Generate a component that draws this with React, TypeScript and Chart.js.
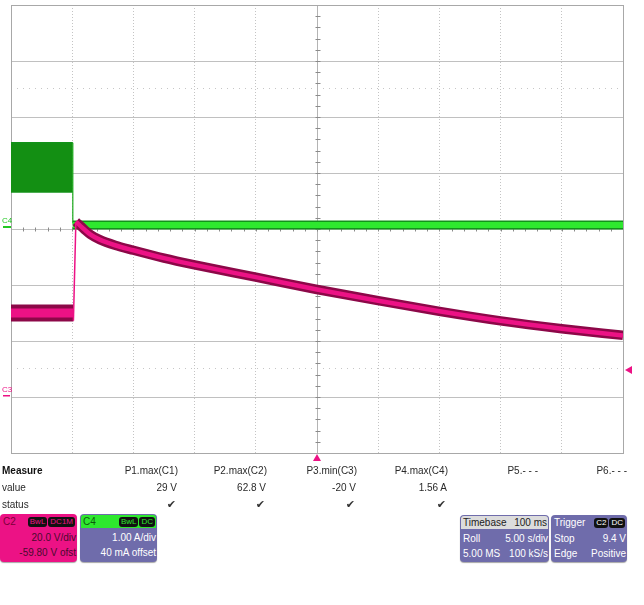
import React, { useEffect, useRef } from "react";
import { Chart, registerables } from "chart.js";
Chart.register(...registerables);

// grid in divisions
const xDivMin = 0;
const xDivMax = 10;
const yDivMin = -4;
const yDivMax = 4;

// C1 (dark green block before the event)
const c1BandX = [0, 1.01];
const c1BandTop = [1.54, 1.54];
const c1BandBottom = [0.66, 0.66];
const c1EdgeX = [1.01, 1.01];
const c1EdgeY = [1.54, 0.1];

// C4 (bright green current level)
const c4LevelX = [1.01, 10];
const c4LevelY = [0.07, 0.07];

// C2 (magenta voltage)
const c2PreX = [0, 1.02];
const c2PreY = [-1.5, -1.5];
const c2JumpX = [1.02, 1.06];
const c2JumpY = [-1.64, 0.13];
const c2DecayX = [1.06, 1.12, 1.2, 1.3, 1.45, 1.7, 2, 2.5, 3, 4, 5, 6, 7, 8, 9, 10];
const c2DecayY = [0.13, 0.07, -0.01, -0.1, -0.19, -0.29, -0.38, -0.52, -0.64, -0.86, -1.08, -1.28, -1.47, -1.64, -1.78, -1.9];

// markers
const cursorLevels = [2.52, -2.48];
const triggerLevel = -2.52;
const triggerTime = 5;
const c4Ground = 0;
const c3Ground = -3;

// measurement table
const measureNames = ["P1.max(C1)", "P2.max(C2)", "P3.min(C3)", "P4.max(C4)", "P5.- - -", "P6.- - -"];
const measureValues = ["29 V", "62.8 V", "-20 V", "1.56 A", "", ""];
const measureStatus = [true, true, true, true, false, false];

const pts = (xs: number[], ys: number[]) => xs.map((x, i) => ({ x, y: ys[i] }));

const PINK = "#ec1285";
const DARKPINK = "#8c0848";
const GREEN = "#2ee82e";
const DARKGREEN = "#12921a";
const PURPLE = "#6f6cab";

const scopePlugin = {
  id: "scope",
  beforeDatasetsDraw(chart: any) {
    const { ctx, chartArea: a, scales } = chart;
    const xs = scales.x, ys = scales.y;
    ctx.save();
    ctx.strokeStyle = "#c6c6c6";
    ctx.lineWidth = 1;
    ctx.setLineDash([1, 5]);
    cursorLevels.forEach((lv) => {
      const y = Math.round(ys.getPixelForValue(lv)) + 0.5;
      ctx.beginPath();
      ctx.moveTo(a.left, y);
      ctx.lineTo(a.right, y);
      ctx.stroke();
    });
    ctx.setLineDash([]);
    const cx = Math.round(xs.getPixelForValue(5)) + 0.5;
    const cy = Math.round(ys.getPixelForValue(0)) + 0.5;
    ctx.strokeStyle = "#b4b4b4";
    ctx.beginPath();
    ctx.moveTo(cx, a.top);
    ctx.lineTo(cx, a.bottom);
    ctx.stroke();
    ctx.strokeStyle = "#8a8a8a";
    for (let v = yDivMin; v <= yDivMax + 1e-6; v += 0.2) {
      const y = Math.round(ys.getPixelForValue(v)) + 0.5;
      ctx.beginPath();
      ctx.moveTo(cx - 2, y);
      ctx.lineTo(cx + 3, y);
      ctx.stroke();
    }
    for (let v = xDivMin; v <= xDivMax + 1e-6; v += 0.2) {
      const x = Math.round(xs.getPixelForValue(v)) + 0.5;
      ctx.beginPath();
      ctx.moveTo(x, cy - 2);
      ctx.lineTo(x, cy + 2);
      ctx.stroke();
    }
    ctx.strokeStyle = "#a8a8a8";
    ctx.strokeRect(Math.round(a.left) + 0.5, Math.round(a.top) + 0.5, Math.round(a.right - a.left), Math.round(a.bottom - a.top));
    ctx.restore();
  },
  afterDraw(chart: any) {
    const { ctx, chartArea: a, scales } = chart;
    const xs = scales.x, ys = scales.y;
    ctx.save();
    ctx.font = "8px 'Liberation Sans', Arial";
    ctx.textBaseline = "bottom";
    const g4 = ys.getPixelForValue(c4Ground);
    ctx.fillStyle = "#22c822";
    ctx.fillText("C4", 2, g4 - 4);
    ctx.fillRect(3, g4 - 3, 8, 2);
    const g3 = ys.getPixelForValue(c3Ground);
    ctx.fillStyle = PINK;
    ctx.fillText("C3", 2, g3 - 3);
    ctx.fillRect(3, g3 - 2, 7, 1.5);
    const ty = ys.getPixelForValue(triggerLevel);
    ctx.beginPath();
    ctx.moveTo(a.right + 2, ty);
    ctx.lineTo(a.right + 9, ty - 4);
    ctx.lineTo(a.right + 9, ty + 4);
    ctx.closePath();
    ctx.fill();
    const tx = xs.getPixelForValue(triggerTime);
    ctx.beginPath();
    ctx.moveTo(tx, a.bottom + 1);
    ctx.lineTo(tx - 4, a.bottom + 8);
    ctx.lineTo(tx + 4, a.bottom + 8);
    ctx.closePath();
    ctx.fill();
    ctx.restore();
  },
};

function Badge({ children, color }: any) {
  return (
    <span
      style={{
        background: "#111",
        color,
        borderRadius: 3,
        padding: "0 2px",
        fontSize: 8,
        lineHeight: "10px",
        height: 10,
        display: "inline-block",
        marginLeft: 1,
      }}
    >
      {children}
    </span>
  );
}

function InfoBox({ left, top, width, height, headerBg, headerColor, bodyBg, bodyColor, title, titleRight, badges, badgeColor, rows }: any) {
  return (
    <div
      style={{
        position: "absolute",
        left,
        top,
        width,
        height,
        background: bodyBg,
        borderRadius: 4,
        overflow: "hidden",
        boxShadow: "0 1px 1px rgba(0,0,0,0.35)",
        fontSize: 10,
        color: bodyColor,
      }}
    >
      <div
        style={{
          height: 13,
          margin: "1px 1px 0 1px",
          background: headerBg,
          color: headerColor,
          borderRadius: "3px 3px 0 0",
          display: "flex",
          alignItems: "center",
          justifyContent: "space-between",
          padding: "0 1px 0 2px",
          lineHeight: "13px",
        }}
      >
        <span>{title}</span>
        <span style={{ display: "flex" }}>
          {titleRight ? <span>{titleRight}</span> : null}
          {(badges || []).map((b: string, i: number) => (
            <Badge key={i} color={badgeColor}>
              {b}
            </Badge>
          ))}
        </span>
      </div>
      {rows.map((r: string[], i: number) => (
        <div
          key={i}
          style={{ display: "flex", justifyContent: "space-between", padding: "0 1px 0 3px", lineHeight: "15px", height: 15, marginTop: i === 0 ? 2 : 0 }}
        >
          <span>{r[0]}</span>
          <span>{r[1]}</span>
        </div>
      ))}
    </div>
  );
}

export default function App() {
  const ref = useRef<HTMLCanvasElement | null>(null);
  useEffect(() => {
    if (!ref.current) return;
    const chart = new Chart(ref.current, {
      type: "line",
      data: {
        datasets: [
          { data: pts(c2JumpX, c2JumpY), borderColor: PINK, borderWidth: 1.5, pointRadius: 0, order: 1 } as any,
          { data: pts(c2DecayX, c2DecayY), borderColor: PINK, borderWidth: 4.5, pointRadius: 0, cubicInterpolationMode: "monotone", order: 2 } as any,
          { data: pts(c2DecayX, c2DecayY), borderColor: DARKPINK, borderWidth: 9.5, pointRadius: 0, cubicInterpolationMode: "monotone", order: 3 } as any,
          { data: pts(c2PreX, c2PreY), borderColor: PINK, borderWidth: 9, pointRadius: 0, order: 4 } as any,
          { data: pts(c2PreX, c2PreY), borderColor: DARKPINK, borderWidth: 17, pointRadius: 0, order: 5 } as any,
          { data: pts(c4LevelX, c4LevelY), borderColor: GREEN, borderWidth: 6, pointRadius: 0, order: 6 } as any,
          { data: pts(c4LevelX, c4LevelY), borderColor: DARKGREEN, borderWidth: 9, pointRadius: 0, order: 7 } as any,
          { data: pts(c1EdgeX, c1EdgeY), borderColor: "#1aa81a", borderWidth: 1.2, pointRadius: 0, order: 8 } as any,
          { data: pts(c1BandX, c1BandTop), borderColor: DARKGREEN, backgroundColor: "#138f13", borderWidth: 1.5, pointRadius: 0, fill: "+1", order: 9 } as any,
          { data: pts(c1BandX, c1BandBottom), borderColor: DARKGREEN, borderWidth: 1.5, pointRadius: 0, order: 10 } as any,
        ],
      },
      options: {
        animation: false,
        responsive: false,
        devicePixelRatio: 1,
        layout: { padding: { left: 11, right: 21, top: 5, bottom: 17 } },
        plugins: { legend: { display: false }, tooltip: { enabled: false } },
        events: [],
        scales: {
          x: {
            type: "linear",
            min: xDivMin,
            max: xDivMax,
            ticks: { display: false, stepSize: 1 },
            grid: { color: "#c4c4c4", lineWidth: 1, drawTicks: false },
            border: { display: false, dash: [1, 2] },
          },
          y: {
            type: "linear",
            min: yDivMin,
            max: yDivMax,
            ticks: { display: false, stepSize: 1 },
            grid: { color: "#c0c0c0", lineWidth: 1, drawTicks: false },
            border: { display: false },
          },
        },
      } as any,
      plugins: [scopePlugin],
    });
    return () => chart.destroy();
  }, []);

  const colRight = [178, 267, 357, 448, 538, 627];
  const rowTop = [464, 481, 498];
  const txt: any = { position: "absolute", fontSize: 10, lineHeight: "14px", height: 14, whiteSpace: "nowrap", color: "#2a2a2a" };

  return (
    <div style={{ position: "absolute", left: 0, top: 0, width: 644, height: 605, background: "#fff", fontFamily: "'Liberation Sans', Arial, sans-serif" }}>
      <canvas ref={ref} width={644} height={470} style={{ position: "absolute", left: 0, top: 0, width: 644, height: 470 }} />
      <div style={{ ...txt, left: 2, top: rowTop[0], fontWeight: "bold", color: "#111" }}>Measure</div>
      <div style={{ ...txt, left: 2, top: rowTop[1] }}>value</div>
      <div style={{ ...txt, left: 2, top: rowTop[2] }}>status</div>
      {measureNames.map((n, i) => (
        <div key={"n" + i} style={{ ...txt, right: 644 - colRight[i], top: rowTop[0] }}>
          {n}
        </div>
      ))}
      {measureValues.map((v, i) => (
        <div key={"v" + i} style={{ ...txt, right: 644 - colRight[i] + 1, top: rowTop[1] }}>
          {v}
        </div>
      ))}
      {measureStatus.map((s, i) =>
        s ? (
          <div key={"s" + i} style={{ ...txt, right: 644 - colRight[i] + 2, top: rowTop[2], fontFamily: "'DejaVu Sans'", fontSize: 11, color: "#333" }}>
            ✔
          </div>
        ) : null
      )}
      <InfoBox
        left={0}
        top={514}
        width={77}
        height={48}
        headerBg={PINK}
        headerColor="#7a0038"
        bodyBg={PINK}
        bodyColor="#4a0a2e"
        title="C2"
        badges={["BwL", "DC1M"]}
        badgeColor={PINK}
        rows={[["", "20.0 V/div"], ["", "-59.80 V ofst"]]}
      />
      <InfoBox
        left={80}
        top={514}
        width={77}
        height={48}
        headerBg={GREEN}
        headerColor="#0c5a0c"
        bodyBg={PURPLE}
        bodyColor="#ffffff"
        title="C4"
        badges={["BwL", "DC"]}
        badgeColor={GREEN}
        rows={[["", "1.00 A/div"], ["", "40 mA offset"]]}
      />
      <InfoBox
        left={460}
        top={515}
        width={89}
        height={47}
        headerBg="#dcdcdc"
        headerColor="#222"
        bodyBg={PURPLE}
        bodyColor="#ffffff"
        title="Timebase"
        titleRight="100 ms"
        rows={[["Roll", "5.00 s/div"], ["5.00 MS", "100 kS/s"]]}
      />
      <InfoBox
        left={551}
        top={515}
        width={76}
        height={47}
        headerBg={PURPLE}
        headerColor="#ffffff"
        bodyBg={PURPLE}
        bodyColor="#ffffff"
        title="Trigger"
        badges={["C2", "DC"]}
        badgeColor="#ffffff"
        rows={[["Stop", "9.4 V"], ["Edge", "Positive"]]}
      />
    </div>
  );
}
